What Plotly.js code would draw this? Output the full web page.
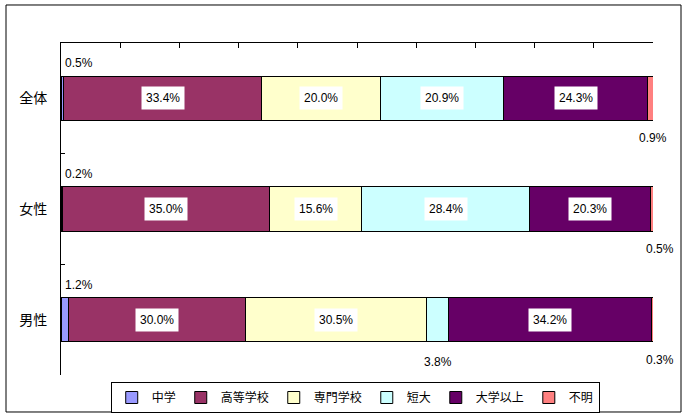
<!DOCTYPE html>
<html>
<head>
<meta charset="utf-8">
<script src="https://cdn.plot.ly/plotly-3.0.1.min.js"></script>
<style>
  html, body { margin: 0; padding: 0; background: #fff; }
  #chart { width: 687px; height: 418px; }
</style>
</head>
<body>
<div id="chart"></div>
<script>
// ---- data ----
const categories = ['全体', '女性', '男性'];
const seriesNames = ['中学', '高等学校', '専門学校', '短大', '大学以上', '不明'];
const chugaku   = [0.5, 0.2, 1.2];
const koko      = [33.4, 35.0, 30.0];
const senmon    = [20.0, 15.6, 30.5];
const tandai    = [20.9, 28.4, 3.8];
const daigaku   = [24.3, 20.3, 34.2];
const fumei     = [0.9, 0.5, 0.3];
const seriesValues = [chugaku, koko, senmon, tandai, daigaku, fumei];

// ---- styles ----
const colors = ['#9999FF', '#993366', '#FFFFCC', '#CCFFFF', '#660066', '#FF8080'];
const labelFont = { family: 'Liberation Sans, Arial, sans-serif', size: 12, color: '#000' };
const cjkFont = 'Noto Sans CJK JP, sans-serif';
const lastLabelXShift = [0, 7, 7];

const traces = seriesNames.map((name, i) => ({
  type: 'bar',
  orientation: 'h',
  name: name,
  y: categories,
  x: seriesValues[i],
  width: 0.4,
  marker: { color: colors[i], line: { color: '#000', width: 1 } },
  hoverinfo: 'skip'
}));

const annotations = [];
categories.forEach((cat, ci) => {
  let cum = 0;
  seriesValues.forEach((vals, si) => {
    const v = vals[ci];
    const mid = cum + v / 2;
    const txt = v.toFixed(1) + '%';
    const base = { y: cat, yref: 'y', xref: 'x', text: txt, showarrow: false, font: labelFont };
    if (v >= 10) {
      annotations.push(Object.assign({}, base, { x: mid, bgcolor: '#fff', borderpad: 4 }));
    } else if (si === 0) {
      annotations.push(Object.assign({}, base, { x: 0, xanchor: 'left', xshift: 2, yshift: 35 }));
    } else if (si === seriesValues.length - 1) {
      annotations.push(Object.assign({}, base, { x: 100, xanchor: 'center', xshift: lastLabelXShift[ci], yshift: -40 }));
    } else {
      annotations.push(Object.assign({}, base, { x: mid, xanchor: 'center', yshift: -42 }));
    }
    cum += v;
  });
});

const layout = {
  width: 687,
  height: 418,
  margin: { l: 61, r: 34, t: 43, b: 43, pad: 0 },
  paper_bgcolor: '#fff',
  plot_bgcolor: '#fff',
  barmode: 'stack',
  showlegend: true,
  xaxis: {
    side: 'top',
    range: [0, 100],
    dtick: 10,
    tick0: 0,
    ticks: 'inside',
    ticklen: 5,
    tickcolor: '#000',
    showticklabels: false,
    showgrid: false,
    zeroline: false,
    showline: true,
    linecolor: '#000',
    linewidth: 1,
    fixedrange: true
  },
  yaxis: {
    type: 'category',
    categoryorder: 'array',
    categoryarray: categories,
    range: [2.5, -0.5],
    tickson: 'boundaries',
    ticks: 'inside',
    ticklen: 4,
    tickcolor: '#000',
    ticklabelstandoff: 10,
    tickfont: { family: cjkFont, size: 14, color: '#000' },
    showgrid: false,
    zeroline: false,
    showline: true,
    linecolor: '#000',
    linewidth: 1,
    fixedrange: true
  },
  legend: {
    orientation: 'h',
    xref: 'paper',
    x: 0.497,
    xanchor: 'center',
    yref: 'container',
    y: 0.0861,
    yanchor: 'top',
    traceorder: 'normal',
    bordercolor: '#000',
    borderwidth: 1,
    bgcolor: '#fff',
    font: { family: cjkFont, size: 12, color: '#000' },
    itemwidth: 30
  },
  annotations: annotations,
  shapes: [{
    type: 'rect', xref: 'paper', yref: 'paper',
    x0: -0.0929, x1: 1.0473, y0: -0.1114, y1: 1.1145,
    line: { color: '#000', width: 1 }, fillcolor: 'rgba(0,0,0,0)', layer: 'below'
  }]
};

Plotly.newPlot('chart', traces, layout, { displayModeBar: false, staticPlot: true });
</script>
</body>
</html>
